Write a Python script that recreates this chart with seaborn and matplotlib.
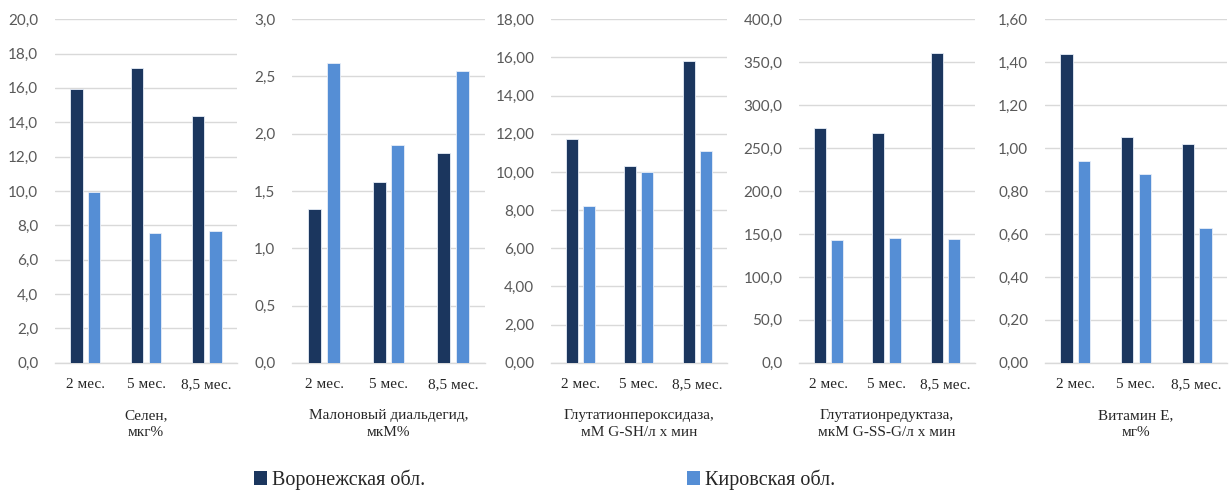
import pandas as pd
import numpy as np
import matplotlib
matplotlib.use("Agg")
import matplotlib.pyplot as plt
from matplotlib.ticker import FuncFormatter, MultipleLocator
from matplotlib.patches import Patch
import seaborn as sns

# ==================== данные ====================
periods = ["2 мес.", "5 мес.", "8,5 мес."]
regions = ["Воронежская обл.", "Кировская обл."]

selen_vor = [15.95, 17.15, 14.35]
selen_kir = [9.95, 7.55, 7.65]

mda_vor = [1.34, 1.58, 1.83]
mda_kir = [2.62, 1.90, 2.55]

gpx_vor = [11.70, 10.30, 15.80]
gpx_kir = [8.20, 10.00, 11.10]

gr_vor = [273.0, 267.0, 360.5]
gr_kir = [143.0, 145.0, 144.0]

vite_vor = [1.44, 1.05, 1.02]
vite_kir = [0.94, 0.88, 0.63]

titles = ["Селен,\nмкг%",
          "Малоновый диальдегид,\nмкМ%",
          "Глутатионпероксидаза,\nмМ G-SH/л х мин",
          "Глутатионредуктаза,\nмкМ G-SS-G/л х мин",
          "Витамин Е,\nмг%"]

# (max, step, decimals) для осей Y
y_axes = [(20, 2, 1), (3, 0.5, 1), (18, 2, 2), (400, 50, 1), (1.6, 0.2, 2)]

series = [(selen_vor, selen_kir), (mda_vor, mda_kir), (gpx_vor, gpx_kir),
          (gr_vor, gr_kir), (vite_vor, vite_kir)]

colors = ["#1b365e", "#558ed5"]

# ==================== рисунок ====================
sns.set_style("white")
plt.rcParams['font.family'] = ['Liberation Serif', 'DejaVu Serif']

fig = plt.figure(figsize=(12.29, 4.91), dpi=100)

# позиции осей [left, bottom, width, height]
positions = [
    [0.0448, 0.261, 0.148, 0.700],
    [0.2376, 0.261, 0.157, 0.700],
    [0.4483, 0.261, 0.143, 0.700],
    [0.6501, 0.261, 0.143, 0.700],
    [0.8503, 0.261, 0.148, 0.700],
]

for i, (vor, kir) in enumerate(series):
    ax = fig.add_axes(positions[i])
    df = pd.DataFrame({
        "period": periods * 2,
        "value": list(vor) + list(kir),
        "region": [regions[0]] * 3 + [regions[1]] * 3,
    })
    sns.barplot(data=df, x="period", y="value", hue="region",
                palette=colors, width=0.58, gap=0.3, legend=False,
                edgecolor="#e8eef8", linewidth=0.6, saturation=1, ax=ax,
                zorder=3)
    ymax, step, dec = y_axes[i]
    ax.set_ylim(0, ymax)
    ax.yaxis.set_major_locator(MultipleLocator(step))
    ax.yaxis.set_major_formatter(
        FuncFormatter(lambda v, p, d=dec: f"{v:.{d}f}".replace(".", ",")))
    ax.grid(axis="y", color="#d9d9d9", linewidth=1, zorder=0)
    ax.set_axisbelow(True)
    for s in ["top", "right", "left"]:
        ax.spines[s].set_visible(False)
    ax.spines["bottom"].set_color("#d9d9d9")
    ax.spines["bottom"].set_linewidth(1)
    ax.tick_params(axis="y", length=0, pad=12, labelsize=11, labelcolor="#595959")
    ax.tick_params(axis="x", length=0, pad=11, labelsize=11, labelcolor="#262626")
    for lab in ax.get_yticklabels():
        lab.set_family(["Lato", "DejaVu Sans"])
    ax.set_ylabel("")
    ax.set_xlabel(titles[i], fontsize=11, color="#262626", labelpad=13,
                  linespacing=1.4)

handles = [Patch(facecolor=c, edgecolor="none") for c in colors]
fig.legend(handles, regions, loc="lower center", bbox_to_anchor=(0.443, -0.035),
           ncol=2, frameon=False, fontsize=14.5, handlelength=0.65,
           handleheight=0.65, handletextpad=0.25, columnspacing=13.0,
           labelcolor="#262626")

fig.savefig("out.png", dpi=100)
